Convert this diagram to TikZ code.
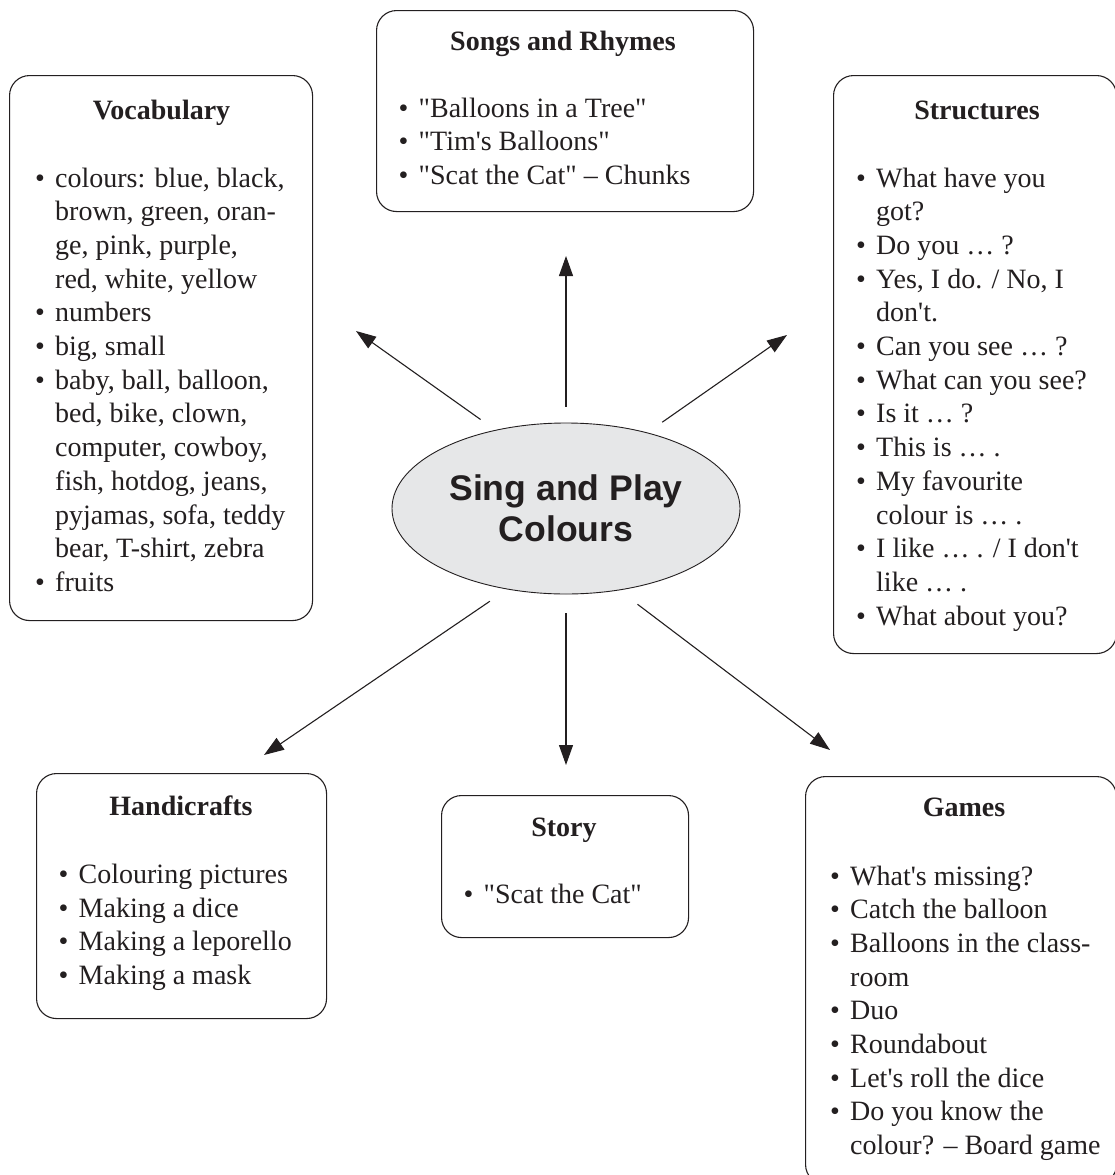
\documentclass[tikz,border=0pt]{standalone}
\usepackage{fontspec}
\setmainfont{Liberation Serif}
\newfontfamily\timesfont{Liberation Serif}
\newfontfamily\arialfont{Liberation Sans}
\usepackage{tikz}
\usetikzlibrary{shapes.geometric, arrows.meta, positioning}
\usepackage{xcolor}
\definecolor{ink}{HTML}{231F20}
\definecolor{hubgray}{HTML}{E6E7E8}

\newcommand{\bu}{\makebox[20pt][l]{\textbullet}}
\newcommand{\ind}{\hspace*{20pt}}

\tikzset{
  card/.style={draw=ink, line width=1.1pt, rounded corners=20pt, anchor=north west, inner sep=0pt},
  cardhead/.style={font=\timesfont\bfseries\fontsize{28}{33.7}\selectfont, text=ink, anchor=base, inner sep=0pt},
  % lists are placed by the baseline of their last line
  cardlist/.style={font=\timesfont\fontsize{28}{33.7}\selectfont, text=ink, align=left, anchor=base west, inner sep=0pt},
  hubnode/.style={ellipse, draw=ink, fill=hubgray, line width=0.9pt, inner sep=0pt, minimum width=348pt, minimum height=171pt},
  hubtext/.style={font=\arialfont\bfseries\fontsize{35.6}{41}\selectfont, text=ink, align=center},
  link/.style={draw=ink, line width=1.1pt, -{Triangle[length=20pt, width=14pt]}}
}

\begin{document}
\begin{tikzpicture}[x=1pt, y=-1pt]
  \path[use as bounding box, fill=white] (0,0) rectangle (1114,1175);

  % 1. Centre
  \node[hubnode, label={[hubtext]center:Sing and Play\\Colours}] (hub) at (566,508.5) {};

  % 2. Cards
  \node[card, minimum width=303pt, minimum height=545pt] (vocab) at (9,75) {};
  \node[cardhead] (vocabHead) at (161.5,119) {Vocabulary};
  \node[cardlist] (vocabList) at (35,591.4) {\bu colours: blue, black,\\
    \ind brown, green, oran-\\
    \ind ge, pink, purple,\\
    \ind red, white, yellow\\
    \bu numbers\\
    \bu big, small\\
    \bu baby, ball, balloon,\\
    \ind bed, bike, clown,\\
    \ind computer, cowboy,\\
    \ind fish, hotdog, jeans,\\
    \ind pyjamas, sofa, teddy\\
    \ind bear, T-shirt, zebra\\
    \bu fruits};

  \node[card, minimum width=377pt, minimum height=201pt] (songs) at (376,10) {};
  \node[cardhead] (songsHead) at (563,50) {Songs and Rhymes};
  \node[cardlist] (songsList) at (398.5,184.4) {\bu "Balloons in a Tree"\\
    \bu "Tim's Balloons"\\
    \bu "Scat the Cat" \textendash{} Chunks};

  \node[card, minimum width=283pt, minimum height=578pt] (structs) at (833,75) {};
  \node[cardhead] (structsHead) at (977,119) {Structures};
  \node[cardlist] (structsList) at (856,625.1) {\bu What have you\\
    \ind got?\\
    \bu Do you … ?\\
    \bu Yes, I do. / No, I\\
    \ind don't.\\
    \bu Can you see … ?\\
    \bu What can you see?\\
    \bu Is it … ?\\
    \bu This is … .\\
    \bu My favourite\\
    \ind colour is … .\\
    \bu I like … . / I don't\\
    \ind like … .\\
    \bu What about you?};

  \node[card, minimum width=290pt, minimum height=245pt] (handi) at (36,773) {};
  \node[cardhead] (handiHead) at (181,815) {Handicrafts};
  \node[cardlist] (handiList) at (58.5,984.4) {\bu Colouring pictures\\
    \bu Making a dice\\
    \bu Making a leporello\\
    \bu Making a mask};

  \node[card, minimum width=247pt, minimum height=142pt] (story) at (441,795) {};
  \node[cardhead] (storyHead) at (564,836) {Story};
  \node[cardlist] (storyList) at (463.5,903.3) {\bu "Scat the Cat"};

  \node[card, minimum width=311pt, minimum height=408pt] (games) at (805,776) {};
  \node[cardhead] (gamesHead) at (964,816.7) {Games};
  \node[cardlist] (gamesList) at (830,1154.6) {\bu What's missing?\\
    \bu Catch the balloon\\
    \bu Balloons in the class-\\
    \ind room\\
    \bu Duo\\
    \bu Roundabout\\
    \bu Let's roll the dice\\
    \bu Do you know the\\
    \ind colour? \textendash{} Board game};

  % 3. Arrows
  \coordinate (toVocab) at (356,331);
  \coordinate (toSongs) at (566,256);
  \coordinate (toStructs) at (787,335);
  \coordinate (toHandi) at (264,755);
  \coordinate (toStory) at (566,765);
  \coordinate (toGames) at (830,750);
  \draw[link, shorten <=18pt] (hub.132) -- (toVocab);
  \draw[link, shorten <=16pt] (hub.90) -- (toSongs);
  \draw[link, shorten <=18pt] (hub.43.6) -- (toStructs);
  \draw[link, shorten <=21pt] (hub.234.9) -- (toHandi);
  \draw[link, shorten <=19pt] (hub.270) -- (toStory);
  \draw[link, shorten <=23pt] (hub.303.8) -- (toGames);
\end{tikzpicture}
\end{document}
